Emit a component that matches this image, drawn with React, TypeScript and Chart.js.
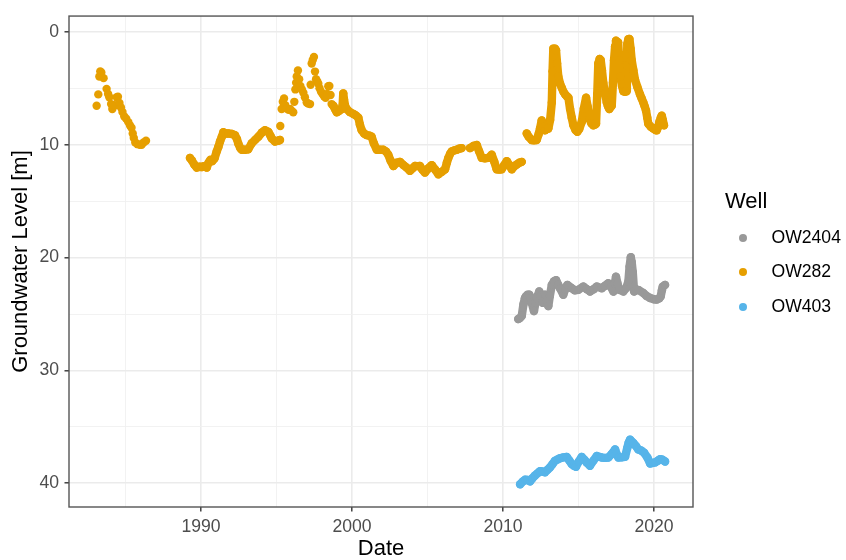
import React, { useEffect, useRef } from 'react';
import { Chart, registerables } from 'chart.js';

Chart.register(...registerables);

const FONT = '"Liberation Sans", Arial, Helvetica, sans-serif';

const wellNames = ['OW2404', 'OW282', 'OW403'];
const wellColors = ['#999999', '#E69F00', '#56B4E9'];

const xRange = [1981.26, 2022.58];
const yRange = [-1.4, 42.1];
const xGridYears = [1985, 1990, 1995, 2000, 2005, 2010, 2015, 2020];
const xLabelYears = [1990, 2000, 2010, 2020];
const yGridLevels = [0, 5, 10, 15, 20, 25, 30, 35, 40];
const yLabelLevels = [0, 10, 20, 30, 40];

// OW282, sparse readings 1983-1986 (dots)
const ow282Early: [number, number][] = [
  [1983.09, 6.55], [1983.2, 5.54], [1983.27, 3.95], [1983.33, 3.5], [1983.4, 3.6], [1983.55, 4.1],
  [1983.75, 5.05], [1983.85, 5.5], [1983.93, 5.8], [1984.05, 6.4], [1984.13, 6.84], [1984.3, 6.5],
  [1984.42, 5.8], [1984.5, 5.75], [1984.6, 6.3], [1984.7, 6.7], [1984.8, 7.1], [1984.92, 7.5],
  [1985.05, 7.7], [1985.19, 8.0], [1985.3, 8.3], [1985.4, 8.5], [1985.48, 9.0], [1985.55, 9.4],
  [1985.65, 9.8], [1985.8, 9.95], [1985.95, 10.0], [1986.07, 10.0], [1986.2, 9.8], [1986.36, 9.65],
];

// OW282, 1989-1995 (dense)
const ow282Run1: [number, number][] = [
  [1989.27, 11.17], [1989.4, 11.4], [1989.55, 11.75], [1989.72, 12.03], [1989.9, 11.95], [1990.05, 11.98],
  [1990.2, 11.9], [1990.38, 12.03], [1990.5, 11.6], [1990.62, 11.35], [1990.75, 11.45], [1990.9, 11.2],
  [1991.04, 10.6], [1991.15, 10.2], [1991.26, 9.72], [1991.38, 9.3], [1991.48, 8.9], [1991.65, 9.0],
  [1991.81, 9.0], [1992.05, 9.05], [1992.25, 9.15], [1992.38, 9.5], [1992.47, 9.9], [1992.6, 10.3],
  [1992.7, 10.45], [1992.9, 10.45], [1993.13, 10.4], [1993.36, 9.87], [1993.6, 9.55], [1993.8, 9.29],
  [1994.05, 8.9], [1994.24, 8.72], [1994.46, 8.86], [1994.6, 9.2], [1994.68, 9.44], [1994.9, 9.72],
  [1995.1, 9.65], [1995.23, 9.58],
];

// OW282, 1995-1998 (scattered dots)
const ow282Scatter: [number, number][] = [
  [1995.25, 8.34], [1995.34, 6.84], [1995.42, 6.2], [1995.5, 5.9], [1995.58, 6.5], [1995.68, 6.8],
  [1995.8, 6.9], [1995.9, 6.84], [1996.02, 7.0], [1996.11, 7.13], [1996.18, 6.2], [1996.25, 5.1],
  [1996.3, 4.5], [1996.34, 3.96], [1996.42, 3.43], [1996.5, 4.2], [1996.58, 4.8], [1996.68, 5.1],
  [1996.78, 5.4], [1996.88, 5.8], [1997.0, 6.26], [1997.1, 6.35], [1997.22, 6.4], [1997.26, 4.68],
  [1997.33, 2.8], [1997.4, 2.5], [1997.48, 2.22], [1997.55, 3.52], [1997.62, 4.2], [1997.7, 4.4],
  [1997.77, 4.6], [1997.85, 5.0], [1997.95, 5.3], [1998.05, 5.5], [1998.15, 5.7], [1998.25, 5.85],
  [1998.35, 5.5], [1998.43, 4.82], [1998.5, 4.8], [1998.58, 5.6], [1998.65, 6.4], [1998.76, 6.55],
];

// OW282, 1998-2007 (dense)
const ow282Run2: [number, number][] = [
  [1998.76, 6.55], [1998.9, 6.9], [1998.99, 7.13], [1999.15, 7.0], [1999.32, 6.84], [1999.38, 6.5],
  [1999.42, 5.45], [1999.47, 6.0], [1999.55, 6.6], [1999.65, 6.84], [1999.85, 7.1], [2000.09, 7.27],
  [2000.25, 7.4], [2000.42, 7.6], [2000.52, 8.2], [2000.64, 8.72], [2000.8, 9.0], [2000.97, 9.15],
  [2001.15, 9.2], [2001.3, 9.29], [2001.45, 9.9], [2001.64, 10.45], [2001.85, 10.45], [2002.07, 10.45],
  [2002.25, 10.6], [2002.4, 10.88], [2002.55, 11.4], [2002.74, 11.89], [2002.95, 11.6], [2003.18, 11.52],
  [2003.4, 11.8], [2003.62, 12.03], [2003.84, 12.32], [2004.0, 12.1], [2004.17, 11.89], [2004.35, 11.9],
  [2004.5, 11.89], [2004.65, 12.2], [2004.83, 12.47], [2005.05, 12.1], [2005.28, 11.81], [2005.5, 12.2],
  [2005.72, 12.61], [2005.95, 12.4], [2006.16, 12.18], [2006.28, 11.6], [2006.38, 11.17], [2006.5, 10.8],
  [2006.6, 10.6], [2006.78, 10.5], [2006.93, 10.45], [2007.1, 10.35], [2007.26, 10.3],
];

// OW282, 2007-2011 (dense)
const ow282Run3: [number, number][] = [
  [2007.81, 10.3], [2008.05, 10.1], [2008.26, 10.02], [2008.42, 10.6], [2008.59, 11.17], [2008.8, 11.2],
  [2009.03, 11.17], [2009.25, 10.88], [2009.42, 11.5], [2009.58, 12.18], [2009.75, 12.2], [2009.91, 12.18],
  [2010.08, 11.8], [2010.25, 11.46], [2010.42, 11.8], [2010.58, 12.18], [2010.75, 11.9], [2010.91, 11.75],
  [2011.08, 11.6], [2011.24, 11.52],
];

// OW282, 2011-2020 (dense)
const ow282Run4: [number, number][] = [
  [2011.57, 9.0], [2011.7, 9.3], [2011.9, 9.58], [2012.05, 9.6], [2012.23, 9.58], [2012.35, 9.1],
  [2012.45, 8.57], [2012.56, 7.85], [2012.66, 8.4], [2012.78, 8.72], [2012.9, 8.6], [2013.0, 8.57],
  [2013.12, 7.8], [2013.23, 6.26], [2013.28, 3.5], [2013.33, 1.5], [2013.45, 1.5], [2013.51, 1.64],
  [2013.58, 2.8], [2013.66, 3.96], [2013.78, 4.6], [2013.89, 4.96], [2014.0, 5.3], [2014.11, 5.54],
  [2014.22, 5.7], [2014.33, 5.83], [2014.44, 6.84], [2014.55, 7.6], [2014.66, 8.28], [2014.8, 8.7],
  [2014.92, 8.86], [2015.05, 8.6], [2015.21, 8.0], [2015.35, 6.8], [2015.5, 5.83], [2015.6, 6.6],
  [2015.72, 7.7], [2015.85, 8.1], [2015.98, 8.28], [2016.1, 8.2], [2016.16, 8.14], [2016.24, 5.5],
  [2016.31, 2.8], [2016.4, 2.4], [2016.47, 2.51], [2016.55, 3.4], [2016.64, 4.53], [2016.75, 5.4],
  [2016.87, 6.26], [2016.95, 6.6], [2017.04, 6.84], [2017.2, 6.55], [2017.28, 4.5], [2017.35, 2.51],
  [2017.42, 1.3], [2017.48, 0.78], [2017.62, 0.93], [2017.7, 2.5], [2017.79, 3.96], [2017.88, 4.8],
  [2017.97, 5.26], [2018.08, 5.3], [2018.15, 5.26], [2018.2, 3.0], [2018.23, 1.07], [2018.3, 0.65],
  [2018.37, 0.63], [2018.45, 1.5], [2018.52, 2.51], [2018.63, 3.4], [2018.74, 4.24], [2018.9, 4.9],
  [2019.07, 5.54], [2019.18, 5.9], [2019.29, 6.26], [2019.38, 6.6], [2019.47, 6.98], [2019.55, 7.6],
  [2019.62, 8.14], [2019.78, 8.4], [2019.95, 8.57], [2020.1, 8.7], [2020.18, 8.72], [2020.28, 8.4],
  [2020.35, 8.0], [2020.45, 7.6], [2020.51, 7.42], [2020.58, 7.8], [2020.66, 8.28],
];

const ow2404: [number, number][] = [
  [2011.01, 25.45], [2011.12, 25.35], [2011.24, 25.17], [2011.35, 24.16], [2011.45, 23.6], [2011.52, 23.44],
  [2011.62, 23.3], [2011.74, 23.29], [2011.82, 23.6], [2011.9, 24.0], [2012.05, 24.74], [2012.15, 24.0],
  [2012.23, 23.58], [2012.4, 23.0], [2012.5, 23.4], [2012.63, 24.0], [2012.78, 23.29], [2012.9, 23.8],
  [2013.0, 24.3], [2013.1, 23.4], [2013.23, 22.42], [2013.38, 22.1], [2013.51, 22.0], [2013.65, 22.4],
  [2013.77, 22.71], [2013.99, 23.29], [2014.12, 22.8], [2014.26, 22.42], [2014.55, 22.71], [2014.75, 22.9],
  [2014.99, 22.86], [2015.32, 22.57], [2015.55, 22.8], [2015.76, 23.0], [2016.0, 22.8], [2016.21, 22.57],
  [2016.54, 22.71], [2016.75, 22.5], [2016.97, 22.28], [2017.15, 22.6], [2017.31, 23.0], [2017.4, 22.3],
  [2017.48, 21.7], [2017.58, 22.3], [2017.7, 22.86], [2017.97, 23.0], [2018.15, 22.7], [2018.3, 22.14],
  [2018.38, 20.8], [2018.46, 19.97], [2018.52, 20.4], [2018.59, 21.27], [2018.68, 23.0], [2018.96, 22.86],
  [2019.29, 23.14], [2019.5, 23.4], [2019.74, 23.58], [2020.0, 23.7], [2020.18, 23.72], [2020.35, 23.6],
  [2020.44, 23.44], [2020.52, 22.9], [2020.58, 22.57], [2020.73, 22.42],
];

const ow403: [number, number][] = [
  [2011.13, 40.09], [2011.3, 39.85], [2011.46, 39.68], [2011.62, 39.7], [2011.79, 39.83], [2011.95, 39.55],
  [2012.12, 39.31], [2012.3, 39.1], [2012.45, 38.93], [2012.6, 38.95], [2012.78, 39.02], [2012.95, 38.8],
  [2013.11, 38.59], [2013.28, 38.3], [2013.44, 38.01], [2013.6, 37.9], [2013.77, 37.78], [2014.0, 37.7],
  [2014.22, 37.66], [2014.4, 38.0], [2014.55, 38.3], [2014.7, 38.45], [2014.83, 38.53], [2015.0, 38.1],
  [2015.21, 37.66], [2015.38, 37.9], [2015.54, 38.15], [2015.76, 38.44], [2015.98, 38.0], [2016.21, 37.58],
  [2016.54, 37.72], [2016.75, 37.75], [2016.97, 37.72], [2017.2, 37.4], [2017.42, 37.0], [2017.52, 37.4],
  [2017.64, 37.72], [2017.85, 37.7], [2018.08, 37.66], [2018.23, 36.86], [2018.32, 36.4], [2018.41, 36.13],
  [2018.52, 36.3], [2018.63, 36.42], [2018.8, 36.7], [2018.96, 37.0], [2019.15, 37.1], [2019.34, 37.29],
  [2019.56, 37.72], [2019.74, 38.24], [2019.9, 38.2], [2020.07, 38.15], [2020.25, 38.0], [2020.4, 37.86],
  [2020.55, 37.9], [2020.73, 38.07],
];

const POINT_R = 4.2;

function makeSet(label: string, pts: [number, number][], color: string, line: boolean) {
  return {
    label,
    data: pts.map(([x, y]) => ({ x, y })),
    showLine: line,
    borderColor: color,
    backgroundColor: color,
    borderWidth: line ? POINT_R * 2 : 0,
    borderCapStyle: 'round',
    borderJoinStyle: 'round',
    tension: 0,
    pointRadius: POINT_R,
    pointHoverRadius: POINT_R,
    pointBorderWidth: 0,
    pointBackgroundColor: color,
  };
}

const panelBorder = {
  id: 'panelBorder',
  afterDatasetsDraw(chart: any) {
    const { ctx, chartArea } = chart;
    const { left, top, right, bottom } = chartArea;
    ctx.save();
    ctx.strokeStyle = '#555555';
    ctx.lineWidth = 1.4;
    ctx.strokeRect(left, top, right - left, bottom - top);
    ctx.restore();
  },
};

export default function App() {
  const ref = useRef<HTMLCanvasElement>(null);

  useEffect(() => {
    const canvas = ref.current;
    if (!canvas) return;
    const datasets: any[] = [
      makeSet(wellNames[0], ow2404, wellColors[0], true),
      makeSet(wellNames[1], ow282Early, wellColors[1], false),
      makeSet(wellNames[1], ow282Run1, wellColors[1], true),
      makeSet(wellNames[1], ow282Scatter, wellColors[1], false),
      makeSet(wellNames[1], ow282Run2, wellColors[1], true),
      makeSet(wellNames[1], ow282Run3, wellColors[1], true),
      makeSet(wellNames[1], ow282Run4, wellColors[1], true),
      makeSet(wellNames[2], ow403, wellColors[2], true),
    ];
    const tickFont = { family: FONT, size: 17.6 };
    const titleFont = { family: FONT, size: 22, lineHeight: 1.2 };
    const chart = new Chart(canvas, {
      type: 'scatter',
      data: { datasets },
      options: {
        animation: false,
        responsive: false,
        maintainAspectRatio: false,
        events: [],
        layout: { padding: { left: 0, top: 5, right: 153, bottom: 0 } },
        plugins: { legend: { display: false }, tooltip: { enabled: false } },
        scales: {
          x: {
            type: 'linear',
            min: xRange[0],
            max: xRange[1],
            afterBuildTicks: (s: any) => {
              s.ticks = xGridYears.map((v) => ({ value: v }));
            },
            afterFit: (s: any) => {
              s.height = 53;
            },
            ticks: {
              autoSkip: false,
              maxRotation: 0,
              padding: 5,
              font: tickFont,
              color: '#4D4D4D',
              callback: (v: any) => (xLabelYears.includes(Number(v)) ? String(v) : ''),
            },
            grid: {
              color: (c: any) => (xLabelYears.includes(c.tick?.value) ? '#EBEBEB' : '#F1F1F1'),
              lineWidth: (c: any) => (xLabelYears.includes(c.tick?.value) ? 1.6 : 0.9),
              drawTicks: true,
              tickLength: 4.5,
              tickWidth: 1.4,
              tickColor: (c: any) => (xLabelYears.includes(c.tick?.value) ? '#333333' : 'rgba(0,0,0,0)'),
            },
            border: { display: false },
            title: {
              display: true,
              text: 'Date',
              color: '#000000',
              font: titleFont,
              padding: { top: 0, bottom: -2 },
            },
          },
          y: {
            type: 'linear',
            reverse: true,
            min: yRange[0],
            max: yRange[1],
            afterBuildTicks: (s: any) => {
              s.ticks = yGridLevels.map((v) => ({ value: v }));
            },
            afterFit: (s: any) => {
              s.width = 69;
            },
            ticks: {
              autoSkip: false,
              padding: 5.5,
              font: tickFont,
              color: '#4D4D4D',
              callback: (v: any) => (yLabelLevels.includes(Number(v)) ? String(v) : ''),
            },
            grid: {
              color: (c: any) => (yLabelLevels.includes(c.tick?.value) ? '#EBEBEB' : '#F1F1F1'),
              lineWidth: (c: any) => (yLabelLevels.includes(c.tick?.value) ? 1.6 : 0.9),
              drawTicks: true,
              tickLength: 4.5,
              tickWidth: 1.4,
              tickColor: (c: any) => (yLabelLevels.includes(c.tick?.value) ? '#333333' : 'rgba(0,0,0,0)'),
            },
            border: { display: false },
            title: {
              display: true,
              text: 'Groundwater Level [m]',
              color: '#000000',
              font: titleFont,
              padding: { top: 8, bottom: 0 },
            },
          },
        },
      } as any,
      plugins: [panelBorder],
    });
    return () => chart.destroy();
  }, []);

  const legendRows = [238.3, 272, 307];

  return (
    <div
      style={{
        position: 'fixed',
        left: 0,
        top: 0,
        width: 846,
        height: 560,
        background: '#ffffff',
        fontFamily: FONT,
        overflow: 'hidden',
      }}
    >
      <canvas ref={ref} width={846} height={560} style={{ position: 'absolute', left: 0, top: 0, width: 846, height: 560 }} />
      <div
        style={{
          position: 'absolute',
          left: 725,
          top: 200.5,
          transform: 'translateY(-50%)',
          fontSize: 22,
          lineHeight: 1,
          color: '#000',
          whiteSpace: 'nowrap',
        }}
      >
        Well
      </div>
      {wellNames.map((name, i) => (
        <React.Fragment key={name}>
          <div
            style={{
              position: 'absolute',
              left: 742.7 - 4,
              top: legendRows[i] - 4,
              width: 8,
              height: 8,
              borderRadius: '50%',
              background: wellColors[i],
            }}
          />
          <div
            style={{
              position: 'absolute',
              left: 771.5,
              top: legendRows[i],
              transform: 'translateY(-50%)',
              fontSize: 17.6,
              lineHeight: 1,
              color: '#000',
              whiteSpace: 'nowrap',
            }}
          >
            {name}
          </div>
        </React.Fragment>
      ))}
    </div>
  );
}
